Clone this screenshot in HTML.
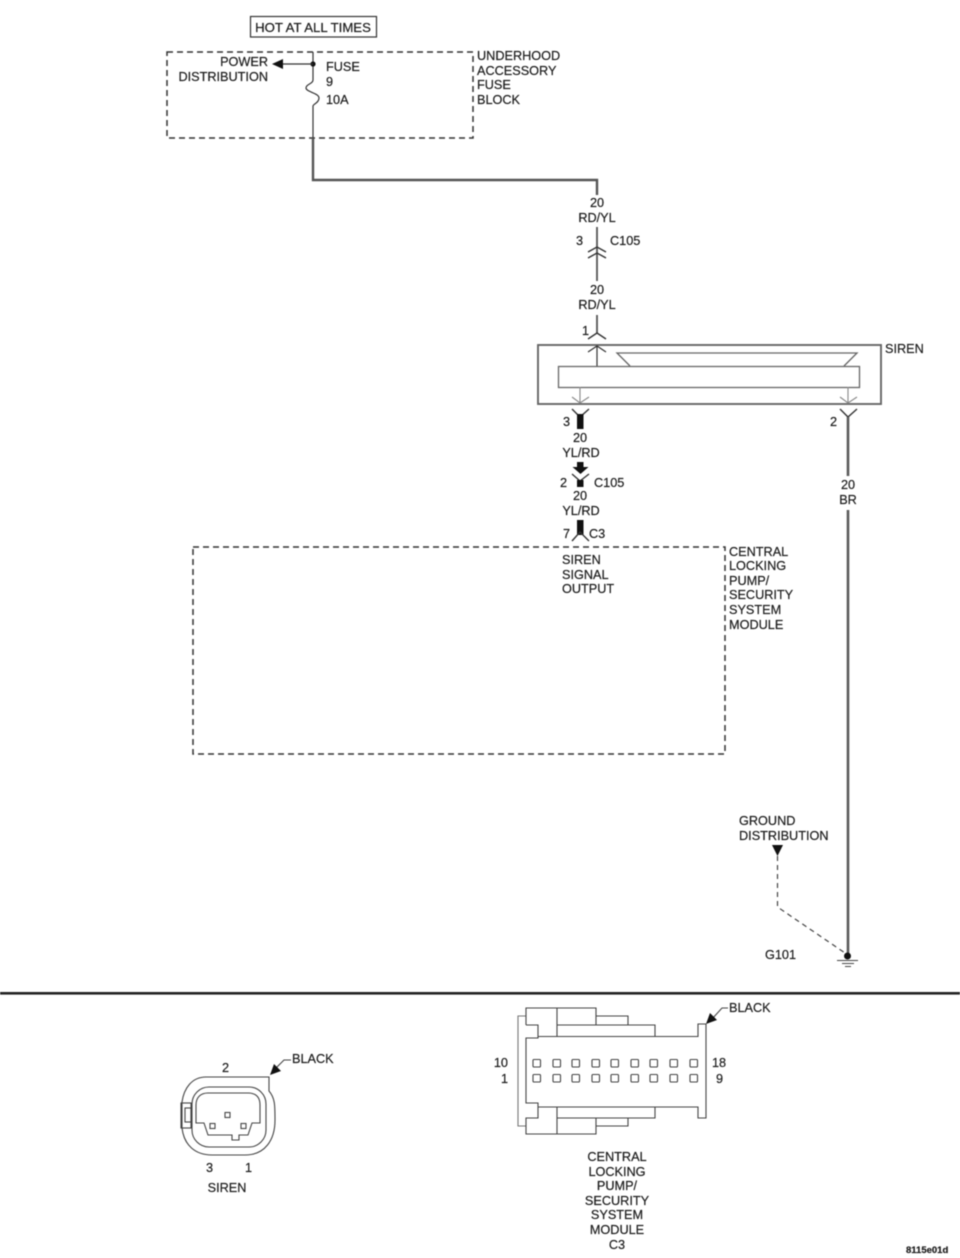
<!DOCTYPE html>
<html><head><meta charset="utf-8"><style>
html,body{margin:0;padding:0;background:#fff;width:960px;height:1258px;overflow:hidden}
svg{display:block;filter:blur(.45px)}
text{font-family:"Liberation Sans",Arial,sans-serif;font-size:12.7px;fill:#1c1c1c;stroke:#1c1c1c;stroke-width:.2px}
.m{text-anchor:middle}.e{text-anchor:end}
.l{fill:none;stroke:#333;stroke-width:1.2}
.g{fill:none;stroke:#666;stroke-width:1.3}
.w{fill:none;stroke:#555;stroke-width:2.4}
.d{fill:none;stroke:#333;stroke-width:1.5;stroke-dasharray:6 4}
.c{fill:none;stroke:#444;stroke-width:1.1}
</style></head><body>
<svg width="960" height="1258" viewBox="0 0 960 1258" xmlns="http://www.w3.org/2000/svg">
<!-- top -->
<rect x="250.500" y="16.500" width="126" height="20.500" class="l"/>
<text x="313" y="32" class="m" style="font-size:13.200px">HOT AT ALL TIMES</text>
<rect x="167" y="52" width="306" height="86" class="d"/>
<text x="268" y="66" class="e">POWER</text>
<text x="268" y="81" class="e">DISTRIBUTION</text>
<text x="326" y="71">FUSE</text><text x="326" y="86">9</text><text x="326" y="104">10A</text>
<text x="477" y="60">UNDERHOOD</text><text x="477" y="75">ACCESSORY</text><text x="477" y="89">FUSE</text><text x="477" y="104">BLOCK</text>
<path d="M313 52V80C313 84 306 84 306 88C306 92 319 93 319 98C319 103 313 104 313 106V138" class="l"/>
<path d="M313 138V180H597V195" class="w"/>
<circle cx="313" cy="64" r="2.600" fill="#111"/>
<path d="M313 64H282" class="l"/>
<path d="M272 64L283 59V69Z" fill="#111"/>
<!-- upper wire -->
<text x="597" y="207" class="m">20</text><text x="597" y="222" class="m">RD/YL</text>
<path d="M597 227V281" class="w" style="stroke-width:1.800"/>
<text x="576" y="245">3</text><text x="610" y="245">C105</text>
<path d="M588 252L597 247L606 252M588 258L597 253L606 258" class="l" style="stroke-width:1.400"/>
<text x="597" y="294" class="m">20</text><text x="597" y="309" class="m">RD/YL</text>
<path d="M597 315V333" class="w" style="stroke-width:1.800"/>
<text x="582" y="335">1</text>
<path d="M588 339L597 333L606 339" class="l" style="stroke-width:1.400"/>
<!-- siren -->
<rect x="538" y="345" width="343" height="59" class="g" style="stroke-width:1.900"/>
<text x="885" y="353">SIREN</text>
<path d="M588 352L597 346L606 352M597 346V366" class="l"/>
<path d="M630 366L617 353H857L844 366" class="g"/>
<rect x="558.500" y="366.500" width="301" height="21" class="g"/>
<path d="M580 387V403M848 387V403M572 397L580 403L589 397M840 397L848 403L857 397" class="c" style="stroke:#888"/>
<!-- lower-left wire -->
<path d="M572 409L580 417L589 409M840 409L848 417L857 409" class="l" style="stroke-width:1.400"/>
<rect x="577" y="414" width="6.500" height="15" fill="#111"/>
<text x="563" y="426">3</text><text x="830" y="426">2</text>
<text x="580" y="442" class="m">20</text><text x="581" y="457" class="m">YL/RD</text>
<rect x="577" y="462" width="6.500" height="7" fill="#111"/>
<path d="M572.500 467H588.500L580.500 474Z" fill="#111"/>
<path d="M572 474L580 481L589 474" class="l" style="stroke-width:1.400"/>
<rect x="577" y="480" width="6.500" height="7" fill="#111"/>
<text x="560" y="487">2</text><text x="594" y="487">C105</text>
<text x="580" y="500" class="m">20</text><text x="581" y="515" class="m">YL/RD</text>
<rect x="577" y="520" width="6.500" height="15" fill="#111"/>
<path d="M572 541L580 532L589 541" class="l" style="stroke-width:1.400"/>
<text x="563" y="538">7</text><text x="589" y="538">C3</text>
<rect x="193" y="547" width="532" height="207" class="d"/>
<text x="562" y="564">SIREN</text><text x="562" y="579">SIGNAL</text><text x="562" y="593">OUTPUT</text>
<text x="729" y="556">CENTRAL</text><text x="729" y="570">LOCKING</text><text x="729" y="585">PUMP/</text><text x="729" y="599">SECURITY</text><text x="729" y="614">SYSTEM</text><text x="729" y="629">MODULE</text>
<!-- right wire -->
<path d="M848 417V476M848 510V955" class="w" style="stroke-width:2.600;stroke:#5a5a5a"/>
<text x="848" y="489" class="m">20</text><text x="848" y="504" class="m">BR</text>
<text x="739" y="825">GROUND</text><text x="739" y="840">DISTRIBUTION</text>
<path d="M772 845H783L777.500 856Z" fill="#111"/>
<path d="M777.500 856V907L845 953" fill="none" stroke="#444" stroke-width="1.200" stroke-dasharray="5 4"/>
<text x="765" y="959">G101</text>
<circle cx="847.500" cy="956" r="3.500" fill="#111"/>
<path d="M837 960.500H858M842 963.500H854M845 966.500H851" class="c"/>
<rect x="0" y="992" width="960" height="2.600" fill="#222"/>
<!-- siren connector -->
<path d="M269 1077H206C192 1077 184 1088 182 1102V1128C184 1145 195 1155 212 1155H245C265 1155 275 1140 275 1120C275 1105 275 1098 269 1091Z" class="c"/>
<rect x="192" y="1087" width="74" height="60" rx="17" class="c"/>
<path d="M196 1123V1105C196 1097 201 1093 208 1093H248C256 1093 260 1097 260 1105V1123H252L248 1135H239V1140H232V1135H208L204 1123Z" class="c"/>
<rect x="181" y="1103" width="10" height="25" fill="#fff" class="c"/>
<rect x="185" y="1108" width="6" height="14" class="c"/>
<rect x="225" y="1112.500" width="5" height="5" class="c"/>
<rect x="210" y="1123.500" width="5" height="5" class="c"/>
<rect x="241" y="1123.500" width="5" height="5" class="c"/>
<text x="222" y="1072">2</text><text x="292" y="1063">BLACK</text>
<path d="M276 1068L284 1060H291" class="c"/>
<path d="M270 1075L281 1071L274 1064Z" fill="#111"/>
<text x="206" y="1172">3</text><text x="245" y="1172">1</text>
<text x="227" y="1192" class="m">SIREN</text>
<!-- C3 connector -->
<path d="M526 1016H518V1126H526" class="c" style="stroke:#777"/>
<path d="M526 1025V1008H596V1025M557 1008V1036.500M596 1016H628V1025M526 1025H538V1038H526V1103H538V1118H526V1134H596V1118M557 1107V1134M538 1036.500H698V1024H706V1118H698V1107H538M557 1025H655V1036M557 1118H655V1107M596 1126H628V1118" class="c"/>
<g>
<rect x="533" y="1059.500" width="7.500" height="7.500" rx="1" class="c"/><rect x="553" y="1059.500" width="7.500" height="7.500" rx="1" class="c"/><rect x="572" y="1059.500" width="7.500" height="7.500" rx="1" class="c"/><rect x="592" y="1059.500" width="7.500" height="7.500" rx="1" class="c"/><rect x="611" y="1059.500" width="7.500" height="7.500" rx="1" class="c"/><rect x="631" y="1059.500" width="7.500" height="7.500" rx="1" class="c"/><rect x="650" y="1059.500" width="7.500" height="7.500" rx="1" class="c"/><rect x="670" y="1059.500" width="7.500" height="7.500" rx="1" class="c"/><rect x="690" y="1059.500" width="7.500" height="7.500" rx="1" class="c"/>
<rect x="533" y="1074.500" width="7.500" height="7.500" rx="1" class="c"/><rect x="553" y="1074.500" width="7.500" height="7.500" rx="1" class="c"/><rect x="572" y="1074.500" width="7.500" height="7.500" rx="1" class="c"/><rect x="592" y="1074.500" width="7.500" height="7.500" rx="1" class="c"/><rect x="611" y="1074.500" width="7.500" height="7.500" rx="1" class="c"/><rect x="631" y="1074.500" width="7.500" height="7.500" rx="1" class="c"/><rect x="650" y="1074.500" width="7.500" height="7.500" rx="1" class="c"/><rect x="670" y="1074.500" width="7.500" height="7.500" rx="1" class="c"/><rect x="690" y="1074.500" width="7.500" height="7.500" rx="1" class="c"/>
</g>
<text x="508" y="1067" class="e">10</text><text x="508" y="1083" class="e">1</text>
<text x="712" y="1067">18</text><text x="716" y="1083">9</text>
<text x="729" y="1012">BLACK</text>
<path d="M712 1019L722 1008H728" class="c"/>
<path d="M706 1024L717 1020L710 1013Z" fill="#111"/>
<text x="617" y="1161" class="m">CENTRAL</text><text x="617" y="1176" class="m">LOCKING</text><text x="617" y="1190" class="m">PUMP/</text><text x="617" y="1205" class="m">SECURITY</text><text x="617" y="1219" class="m">SYSTEM</text><text x="617" y="1234" class="m">MODULE</text><text x="617" y="1249" class="m">C3</text>
<text x="906" y="1253" style="font-size:9.500px;font-weight:bold">8115e01d</text>
</svg>
</body></html>
